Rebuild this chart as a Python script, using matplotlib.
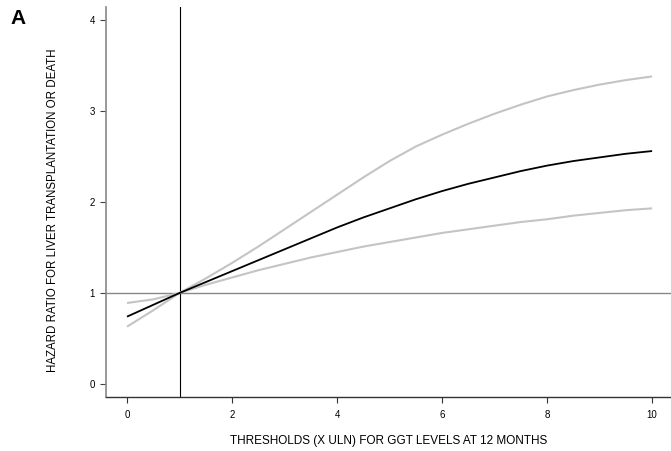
import numpy as np
import matplotlib.pyplot as plt

plt.rcParams['font.family'] = ['Liberation Sans', 'DejaVu Sans']

# thresholds (x ULN) and estimated hazard ratios
x = [0, 0.5, 1, 1.5, 2, 2.5, 3, 3.5, 4, 4.5, 5, 5.5, 6, 6.5, 7, 7.5, 8, 8.5, 9, 9.5, 10]
hr = [0.74, 0.87, 1.00, 1.12, 1.24, 1.36, 1.48, 1.60, 1.72, 1.83, 1.93, 2.03, 2.12, 2.20,
      2.27, 2.34, 2.40, 2.45, 2.49, 2.53, 2.56]
ci_steep = [0.63, 0.81, 1.00, 1.16, 1.33, 1.51, 1.70, 1.89, 2.08, 2.27, 2.45, 2.61, 2.74,
            2.86, 2.97, 3.07, 3.16, 3.23, 3.29, 3.34, 3.38]
ci_flat = [0.89, 0.93, 1.00, 1.09, 1.17, 1.25, 1.32, 1.39, 1.45, 1.51, 1.56, 1.61, 1.66,
           1.70, 1.74, 1.78, 1.81, 1.85, 1.88, 1.91, 1.93]

xticks = [0, 2, 4, 6, 8, 10]
yticks = [0, 1, 2, 3, 4]

fig = plt.figure(figsize=(6.71, 4.51), dpi=100)
ax = fig.add_axes([106 / 671, 54 / 451, 1 - 106 / 671, 390 / 451])

ax.axhline(1, color='#888888', lw=1.0, zorder=1)
ax.axvline(1, color='black', lw=0.8, zorder=1)

ax.plot(x, ci_steep, color='#c4c4c4', lw=1.5, solid_capstyle='butt', zorder=2)
ax.plot(x, ci_flat, color='#c4c4c4', lw=1.5, solid_capstyle='butt', zorder=2)
ax.plot(x, hr, color='black', lw=1.3, solid_capstyle='butt', zorder=3)

ax.set_xlim(-0.4, 10.36)
ax.set_ylim(-0.143, 4.143)
ax.set_xticks(xticks)
ax.set_yticks(yticks)

ax.spines['top'].set_visible(False)
ax.spines['right'].set_visible(False)
ax.spines['left'].set_color('#888888')
ax.spines['left'].set_linewidth(1.2)
ax.spines['bottom'].set_color('#333333')
ax.spines['bottom'].set_linewidth(1.0)

ax.tick_params(axis='y', colors='#444444', labelcolor='black', length=4, width=0.8,
               labelsize=7, pad=4)
ax.tick_params(axis='x', colors='#333333', labelcolor='black', length=4, width=0.8,
               labelsize=7, pad=5)

ax.set_xlabel('THRESHOLDS (X ULN) FOR GGT LEVELS AT 12 MONTHS', fontsize=8.5, labelpad=11)
ax.set_ylabel('HAZARD RATIO FOR LIVER TRANSPLANTATION OR DEATH', fontsize=8.3)
ax.yaxis.set_label_coords(-0.084, 0.479)

fig.text(10 / 671, 1 - 18 / 451, 'A', fontsize=15, fontweight='bold', va='center', ha='left')

fig.savefig('out.png', dpi=100)
